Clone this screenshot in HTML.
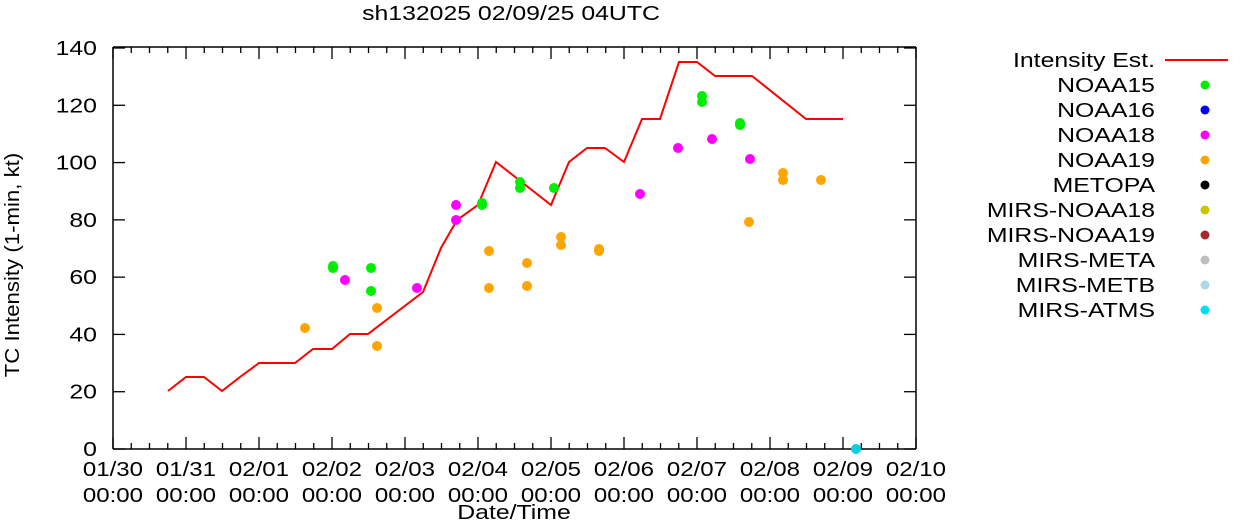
<!DOCTYPE html>
<html><head><style>body{margin:0;background:#fff}</style></head><body>
<svg width="1241" height="521" xmlns="http://www.w3.org/2000/svg" font-family="Liberation Sans, sans-serif" font-size="20">
<rect width="1241" height="521" fill="#fff"/>
<text x="511" y="20" text-anchor="middle">sh132025 02/09/25 04UTC</text>
<g stroke="#000" stroke-width="1.5">
<line x1="113" y1="449" x2="113" y2="47"/><line x1="113" y1="449" x2="916" y2="449"/>
<line x1="916" y1="449" x2="916" y2="47"/><line x1="113" y1="47" x2="916" y2="47"/>
</g>
<g stroke="#000" stroke-width="1.3" id="ticks"></g>
<g text-anchor="end" id="ylab"></g>
<g text-anchor="middle" id="xlab"></g>
<text id="yl" x="19" y="265" text-anchor="middle" transform="rotate(-90 19 265)">TC Intensity (1-min, kt)</text>
<text x="514" y="519" text-anchor="middle">Date/Time</text>
<polyline fill="none" stroke="#f00" stroke-width="2" points="168,391 186,377 204,377 222,391 240,377 259,363 295,363 313,349 332,349 350,334 368,334 423,292 441,248 457,220 478,205 496,162 551,205 569,162 587,148 605,148 624,162 642,119 660,119 679,62 697,62 715,76 752,76 806,119 843,119"/>
<script>
var ns="http://www.w3.org/2000/svg";
function el(p,t,a,txt){var e=document.createElementNS(ns,t);for(var k in a)e.setAttribute(k,a[k]);if(txt)e.textContent=txt;p.appendChild(e);return e;}
var svg=document.querySelector('svg');
var tk=document.getElementById('ticks');
for(var i=0;i<=44;i++){var x=113+i*18.25;var L=(i%4==0)?12:6;el(tk,'line',{x1:x,y1:449,x2:x,y2:449-L});el(tk,'line',{x1:x,y1:47,x2:x,y2:47+L});}
for(var v=0;v<=140;v+=20){var y=449-v*2.8643;el(tk,'line',{x1:113,y1:y,x2:125,y2:y});el(tk,'line',{x1:916,y1:y,x2:904,y2:y});el(document.getElementById('ylab'),'text',{x:97,y:y+7},String(v));}
var d=["01/30","01/31","02/01","02/02","02/03","02/04","02/05","02/06","02/07","02/08","02/09","02/10"];
for(var i=0;i<12;i++){var x=113+i*73;var xl=document.getElementById('xlab');el(xl,'text',{x:x,y:476},d[i]);el(xl,'text',{x:x,y:502},"00:00");}
function dots(c,pts){pts.forEach(function(p){el(svg,'circle',{cx:p[0],cy:p[1],r:5,fill:c});});}
dots('#00ee00',[[333,266],[333,268],[371,268],[371,291],[482,203],[482,205],[520,182],[520,188],[554,188],[702,96],[702,102],[740,123],[740,125]]);
dots('#ff00ff',[[345,280],[417,288],[456,205],[456,220],[640,194],[678,148],[712,139],[750,159]]);
dots('#ffa500',[[305,328],[377,308],[377,346],[489,251],[489,288],[527,263],[527,286],[561,237],[561,245],[599,249],[599,251],[749,222],[783,173],[783,180],[821,180]]);
dots('#00d0e0',[[856,449]]);
var leg=[["Intensity Est.",null],["NOAA15","#00ee00"],["NOAA16","#0000ff"],["NOAA18","#ff00ff"],["NOAA19","#ffa500"],["METOPA","#000"],["MIRS-NOAA18","#c8c800"],["MIRS-NOAA19","#a52a2a"],["MIRS-META","#bebebe"],["MIRS-METB","#add8e6"],["MIRS-ATMS","#00e0f0"]];
leg.forEach(function(l,i){var y=60+i*25;el(svg,'text',{x:1155,y:y+7,'text-anchor':'end'},l[0]);if(l[1])el(svg,'circle',{cx:1205,cy:y,r:4.5,fill:l[1]});else el(svg,'line',{x1:1165,y1:y,x2:1228,y2:y,stroke:'#f00','stroke-width':2});});
Array.prototype.forEach.call(document.querySelectorAll('text'),function(t){var w=t.getComputedTextLength();var f=(t.id=='yl')?1.11:(t.parentNode.id=='xlab'?1.2:1.24);t.setAttribute('textLength',(w*f).toFixed(1));t.setAttribute('lengthAdjust','spacingAndGlyphs');});
</script>
</svg>
</body></html>
